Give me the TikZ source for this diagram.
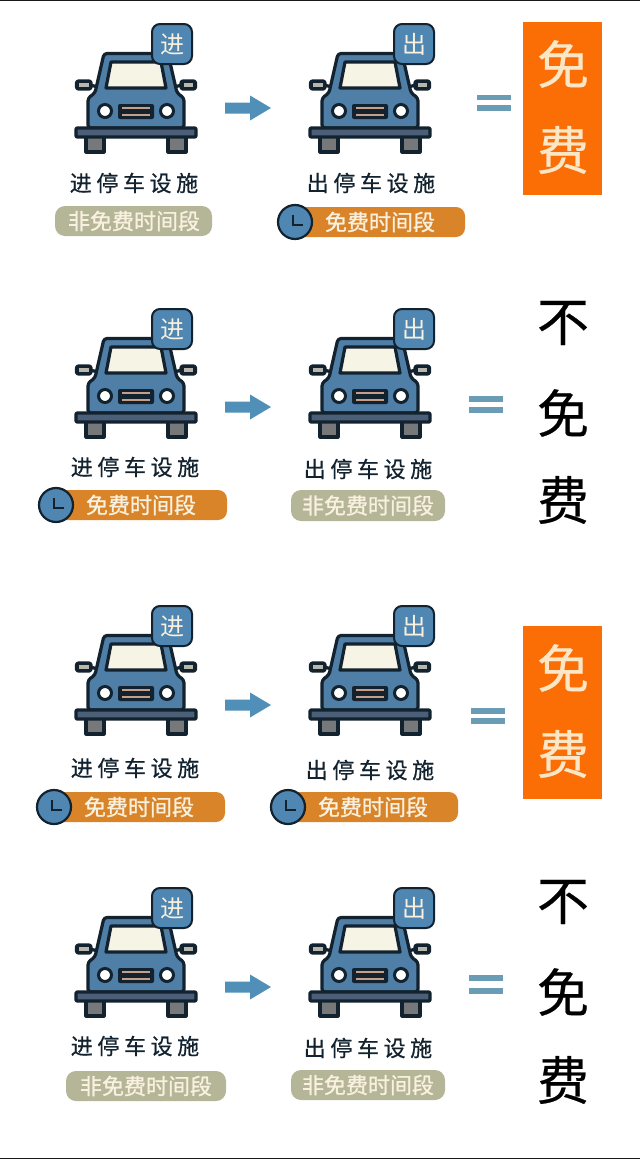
\documentclass[tikz,border=0pt]{standalone}
\usepackage{fontspec}
\setmainfont{Noto Sans CJK SC}
\newfontfamily\cjkspaced[LetterSpace=21,FakeBold=0.6]{Noto Sans CJK SC}
\newfontfamily\cjkmid[FakeBold=1.0]{Noto Sans CJK SC}
\newfontfamily\cjkbig[FakeBold=0.4]{Noto Sans CJK SC}
\definecolor{ink}{HTML}{12222F}
\definecolor{carblue}{HTML}{4F7EA6}
\definecolor{badgeblue}{HTML}{4F86B2}
\definecolor{bumper}{HTML}{4C5F78}
\definecolor{glass}{HTML}{F6F4E4}
\definecolor{wheelgray}{HTML}{77787A}
\definecolor{mirrorgray}{HTML}{B9B6AE}
\definecolor{grillline}{HTML}{C79E8A}
\definecolor{pillgray}{HTML}{B5B597}
\definecolor{pillorange}{HTML}{DA8429}
\definecolor{pilltext}{HTML}{F8F1DF}
\definecolor{boxorange}{HTML}{FB6E06}
\definecolor{boxtext}{HTML}{FBE6C6}
\definecolor{arrowblue}{HTML}{4F8FB8}
\definecolor{equalblue}{HTML}{6A9DB5}
\tikzset{
  x=1pt,y=-1pt,
  carline/.style={draw=ink,line width=3.2pt,line join=round},
  badgebox/.style={draw=ink,line width=2pt,fill=badgeblue,rounded corners=8pt,minimum size=40pt,inner sep=0pt,text=pilltext,font=\fontsize{24}{24}\selectfont},
  facility/.style={inner sep=0pt,text=ink,font=\fontsize{22}{22}\selectfont\cjkspaced},
  pillgraybox/.style={fill=pillgray,rounded corners=10pt,draw=none},
  pillorangebox/.style={fill=pillorange,rounded corners=9pt,draw=none},
  pilllabel/.style={inner sep=0pt,text=pilltext,font=\fontsize{22}{22}\selectfont\cjkmid},
  clockface/.style={circle,draw=ink,line width=2.2pt,fill=badgeblue,minimum size=34pt,inner sep=0pt},
  bigchar/.style={inner sep=0pt,font=\fontsize{52}{52}\selectfont\cjkbig},
}
% name, centre x, shift y, badge x offset, badge text
\newcommand{\carpic}[5]{%
  \begin{scope}[shift={(#2,#3)}]
    \draw[carline,fill=wheelgray] (-50,136) rectangle (-32,152);
    \draw[carline,fill=wheelgray] (32,136) rectangle (50,152);
    \draw[carline] (-46,85) -- (-38,87);
    \draw[carline] (46,85) -- (38,87);
    \draw[carline,fill=ink,rounded corners=2pt] (-59.5,81) rectangle (-45,89);
    \draw[carline,fill=ink,rounded corners=2pt] (45,81) rectangle (59.5,89);
    \fill[mirrorgray] (-57,83) rectangle (-47.5,87);
    \fill[mirrorgray] (47.5,83) rectangle (57,87);
    \draw[carline,fill=carblue,rounded corners=3pt] (-32,53.5) -- (32,53.5) -- (41,93) -- (48,98) -- (48,128) -- (-48,128) -- (-48,98) -- (-41,93) -- cycle;
    \draw[carline,fill=glass] (-25,62) -- (25,62) -- (30,88) -- (-30,88) -- cycle;
    \draw[ink,line width=3pt,fill=white] (-31,111) circle (6.5pt);
    \draw[ink,line width=3pt,fill=white] (31,111) circle (6.5pt);
    \fill[ink,rounded corners=2pt] (-18,104) rectangle (18,119);
    \fill[grillline] (-14,107) rectangle (14,109);
    \fill[grillline] (-14,114) rectangle (14,116);
    \draw[carline,fill=bumper,rounded corners=1pt] (-60,128) rectangle (60,137);
    \node[badgebox] (#1) at (#4,44) {#5};
  \end{scope}}
% name, x left, x right, y top, y bottom, text centre x, text
\newcommand{\graypill}[7]{%
  \fill[pillgraybox] (#2,#4) rectangle (#3,#5);
  \node[pilllabel] (#1) at (#6,{(#4+#5)/2}) {#7};}
% name, clock x, x right, y top, y bottom, text centre x
\newcommand{\orangepill}[6]{%
  \fill[pillorangebox] (#2,#4) rectangle (#3,#5);
  \node[clockface] (#1c) at (#2,{(#4+#5)/2}) {};
  \draw[ink,line width=1.8pt] ({#2-2},{(#4+#5)/2-7}) -- ({#2-2},{(#4+#5)/2+3}) -- ({#2+8},{(#4+#5)/2+3});
  \node[pilllabel] (#1) at (#6,{(#4+#5)/2}) {免费时间段};}
% x left, y centre
\newcommand{\blockarrow}[2]{%
  \fill[arrowblue] (#1,#2-5.5) -- (#1+25,#2-5.5) -- (#1+25,#2-12.5) -- (#1+46,#2) -- (#1+25,#2+12.5) -- (#1+25,#2+5.5) -- (#1,#2+5.5) -- cycle;}
% x left, y upper bar top, y lower bar top
\newcommand{\equalsign}[3]{%
  \fill[equalblue] (#1,#2) rectangle (#1+34,#2+5.5);
  \fill[equalblue] (#1,#3) rectangle (#1+34,#3+5.5);}
\begin{document}
\begin{tikzpicture}
\useasboundingbox (0,0) rectangle (640,1159);
\fill[white] (0,0) rectangle (640,1159);
\fill[black!90] (0,0) rectangle (640,1);
\fill[black!90] (0,1158) rectangle (640,1159);

% row 1
\carpic{ina}{136}{0}{36}{进}
\carpic{outa}{370}{0}{44}{出}
\blockarrow{225}{108}
\equalsign{477}{94.5}{105}
\node[facility] (la) at (134,183) {进停车设施};
\node[facility] (lb) at (371,183) {出停车设施};
\graypill{pa}{55}{212}{206}{236}{134}{非免费时间段}
\orangepill{pb}{295}{465}{207}{237}{380}
\fill[boxorange] (523,22) rectangle (602,195);
\node[bigchar,text=boxtext] (fa) at (563,64) {免};
\node[bigchar,text=boxtext] (fb) at (563,150) {费};

% row 2
\carpic{inb}{136}{285}{36}{进}
\carpic{outb}{370}{285}{44}{出}
\blockarrow{225}{407}
\equalsign{469}{396}{407}
\node[facility] (lc) at (135,467) {进停车设施};
\node[facility] (ld) at (368,469) {出停车设施};
\orangepill{pc}{56}{227}{490}{520}{141}
\graypill{pd}{291}{445}{490}{521}{368}{非免费时间段}
\node[bigchar] (na) at (563,323) {不};
\node[bigchar] (nb) at (563,413) {免};
\node[bigchar] (nc) at (563,500) {费};

% row 3
\carpic{inc}{136}{582}{36}{进}
\carpic{outc}{370}{582}{44}{出}
\blockarrow{225}{705}
\equalsign{471}{708}{718}
\node[facility] (le) at (135,768) {进停车设施};
\node[facility] (lf) at (370,770) {出停车设施};
\orangepill{pe}{54}{225}{792}{822}{139}
\orangepill{pf}{288}{458}{792}{822}{373}
\fill[boxorange] (523,626) rectangle (602,799);
\node[bigchar,text=boxtext] (fc) at (563,668) {免};
\node[bigchar,text=boxtext] (fd) at (563,754) {费};

% row 4
\carpic{ind}{136}{864}{36}{进}
\carpic{outd}{370}{864}{44}{出}
\blockarrow{225}{987}
\equalsign{469}{975}{988}
\node[facility] (lg) at (135,1046) {进停车设施};
\node[facility] (lh) at (368,1048) {出停车设施};
\graypill{pg}{66}{226}{1071}{1101}{146}{非免费时间段}
\graypill{ph}{291}{445}{1070}{1100}{368}{非免费时间段}
\node[bigchar] (nd) at (563,902) {不};
\node[bigchar] (ne) at (563,992) {免};
\node[bigchar] (nf) at (563,1080) {费};
\end{tikzpicture}
\end{document}
